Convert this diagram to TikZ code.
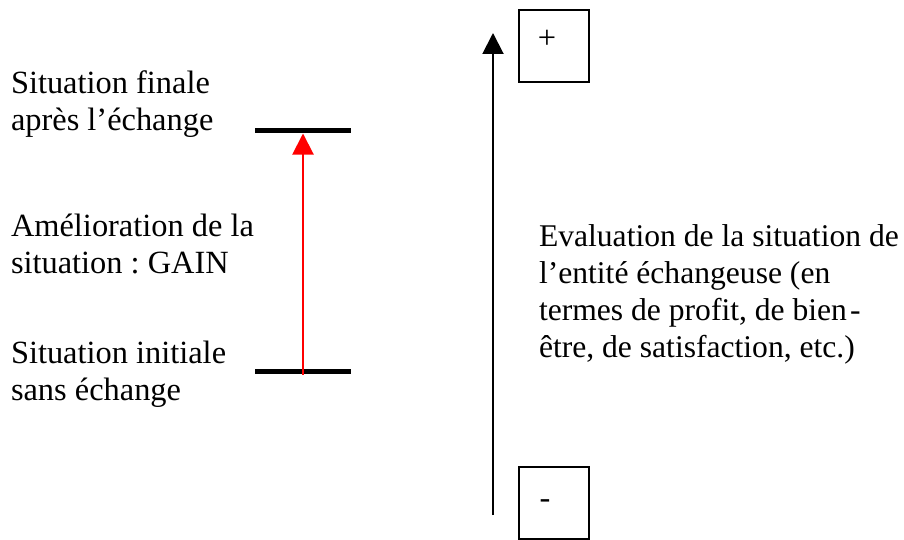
\documentclass[tikz,border=0pt]{standalone}
\usepackage{fontspec}
\setmainfont{Liberation Serif}
\usetikzlibrary{arrows.meta}
\frenchspacing

\begin{document}
\begin{tikzpicture}[x=0.5pt,y=-0.5pt,line width=1pt,>={Triangle[width=10.5pt,length=10.5pt]},
txt/.style={anchor=base west,inner sep=0pt,align=left,font=\fontsize{16.2}{18.5}\selectfont},
bar/.style={fill=black,inner sep=0pt,minimum width=48pt,minimum height=2.5pt},
box/.style={draw,line width=1pt,minimum width=35pt,minimum height=36pt,inner sep=0pt},
sgn/.style={font=\fontsize{16.2}{18.5}\selectfont,inner sep=0pt}]
\useasboundingbox (0,0) rectangle (904,540);
% niveaux (texte ancre sur la derniere ligne)
\node[bar] (final) at (303,130) {};
\node[bar] (initial) at (303,371) {};
\draw[color=red,->] (initial.south) -- (final.south);
\node[txt] (tfinal) at (10,131) {Situation finale\\après l’échange};
\node[txt] (tgain) at (10,273) {Amélioration de la\\situation : GAIN};
\node[txt] (tinit) at (10,400) {Situation initiale\\sans échange};
% axe
\coordinate (bas) at (493,515);
\coordinate (haut) at (493,33);
\draw[->] (bas) -- (haut);
\node[box,label={[sgn,xshift=-3.5pt,yshift=3.5pt]center:+}] (plus) at (554,46) {};
\node[box,label={[sgn,xshift=-4.5pt,yshift=-0.5pt]center:-}] (moins) at (554,503) {};
\node[txt,font=\fontsize{15.8}{18.5}\selectfont] (teval) at (538,357.5) {Evaluation de la situation de\\l’entité échangeuse (en\\termes de profit, de bien\kern1.5pt-\\être, de satisfaction, etc.)};
\end{tikzpicture}
\end{document}
